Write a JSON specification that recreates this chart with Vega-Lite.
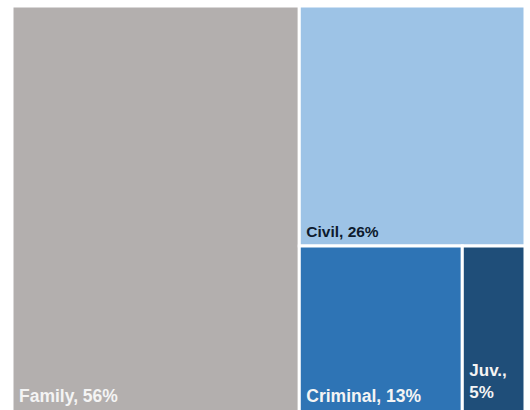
{
  "$schema": "https://vega.github.io/schema/vega-lite/v6.json",
  "width": 513,
  "height": 406,
  "autosize": {"type": "none"},
  "padding": {"left": 12, "top": 6, "right": 0, "bottom": 0},
  "background": "white",
  "config": {"view": {"stroke": null}},
  "data": {
    "values": [
      {"category": "Family", "share": 56, "block": 1, "row": 1},
      {"category": "Civil", "share": 26, "block": 2, "row": 1},
      {"category": "Criminal", "share": 13, "block": 2, "row": 2},
      {"category": "Juv.", "share": 5, "block": 2, "row": 2}
    ]
  },
  "transform": [
    {"joinaggregate": [{"op": "sum", "field": "share", "as": "blockTotal"}], "groupby": ["block"]},
    {"joinaggregate": [{"op": "sum", "field": "share", "as": "rowTotal"}], "groupby": ["block", "row"]},
    {"window": [{"op": "sum", "field": "share", "as": "cum"}], "sort": [{"field": "block"}, {"field": "row"}], "frame": [null, 0]},
    {"calculate": "datum.cum - datum.share", "as": "start"},
    {"joinaggregate": [{"op": "min", "field": "start", "as": "blockStart"}], "groupby": ["block"]},
    {"calculate": "datum.share / datum.rowTotal * datum.blockTotal", "as": "w"},
    {"stack": "w", "groupby": ["block", "row"], "sort": [{"field": "share", "order": "descending"}], "as": ["sx0", "sx1"]},
    {"calculate": "datum.blockStart + datum.sx0", "as": "x0"},
    {"calculate": "datum.blockStart + datum.sx1", "as": "x1"},
    {"calculate": "datum.row == 1 ? 0 : 100 - datum.rowTotal / datum.blockTotal * 100", "as": "y0"},
    {"calculate": "datum.row == 1 ? datum.rowTotal / datum.blockTotal * 100 : 100", "as": "y1"},
    {"calculate": "datum.w < 15 ? datum.category + ',\\n' + datum.share + '%' : datum.category + ', ' + datum.share + '%'", "as": "label"}
  ],
  "layer": [
    {
      "mark": {"type": "rect", "stroke": "white", "strokeWidth": 3},
      "encoding": {
        "x": {"field": "x0", "type": "quantitative", "scale": {"domain": [0, 100], "nice": false, "zero": false}, "axis": null},
        "x2": {"field": "x1"},
        "y": {"field": "y0", "type": "quantitative", "scale": {"domain": [0, 100], "nice": false, "zero": false, "reverse": true}, "axis": null},
        "y2": {"field": "y1"},
        "color": {
          "field": "category",
          "type": "nominal",
          "scale": {"domain": ["Family", "Civil", "Criminal", "Juv."], "range": ["#B3AFAE", "#9DC3E6", "#2E74B5", "#1F4E79"]},
          "legend": null
        }
      }
    },
    {
      "transform": [{"filter": "datum.w >= 15"}],
      "mark": {"type": "text", "align": "left", "baseline": "bottom", "dx": 7, "dy": -6, "font": "Liberation Sans", "fontWeight": "bold"},
      "encoding": {
        "x": {"field": "x0", "type": "quantitative"},
        "y": {"field": "y1", "type": "quantitative"},
        "text": {"field": "label", "type": "nominal"},
        "size": {"condition": {"test": "datum.category === 'Civil'", "value": 15.5}, "value": 17.5},
        "color": {"condition": {"test": "datum.category === 'Civil'", "value": "#0D1B2E"}, "value": "#F4F4F4"}
      }
    },
    {
      "transform": [{"filter": "datum.w < 15"}],
      "mark": {"type": "text", "align": "left", "baseline": "bottom", "dx": 7, "dy": -32, "font": "Liberation Sans", "fontWeight": "bold", "fontSize": 17, "lineBreak": "\n", "lineHeight": 22, "color": "#F4F4F4"},
      "encoding": {
        "x": {"field": "x0", "type": "quantitative"},
        "y": {"field": "y1", "type": "quantitative"},
        "text": {"field": "label", "type": "nominal"}
      }
    }
  ]
}
